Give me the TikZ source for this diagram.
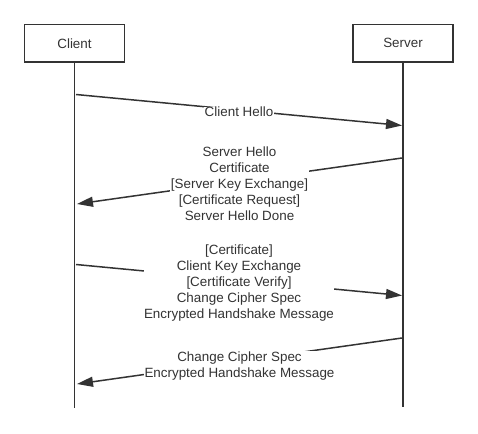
\documentclass[tikz,border=0pt]{standalone}
\usepackage{fontspec}
\setmainfont{Liberation Sans}
\usetikzlibrary{arrows.meta}
\definecolor{ink}{HTML}{333333}
\tikzset{
  actor/.style={draw=ink, line width=1.5pt, minimum width=100pt, minimum height=37.5pt, inner sep=0pt, text=ink},
  life/.style={draw=ink, line width=1.5pt},
  msg/.style={draw=ink, line width=1.5pt, -{Triangle[length=16pt,width=10pt]}},
  msglabel/.style={fill=white, inner sep=0.5pt, align=center, text=ink, font=\fontsize{13.4}{16}\selectfont}
}
\begin{document}
\begin{tikzpicture}[x=1pt,y=-1pt]
\useasboundingbox (0,0) rectangle (478,433);
\node[actor, font=\fontsize{13.4}{16}\selectfont] (client) at (74.5,43.3) {\raisebox{-1pt}{Client}};
\node[actor, font=\fontsize{13.4}{16}\selectfont] (server) at (403,43.3) {\raisebox{-1pt}{Server}};
\coordinate (cend) at (74.5,408);
\coordinate (send) at (403,407);
\draw[life] (client.south) -- (cend);
\draw[life] (server.south) -- (send);
% message end points on the lifelines
\coordinate (m1a) at (76,94.5);
\coordinate (m1b) at (402,125.5);
\coordinate (m2a) at (402,158);
\coordinate (m2b) at (77,204);
\coordinate (m3a) at (76,264.5);
\coordinate (m3b) at (402,295.5);
\coordinate (m4a) at (402,338);
\coordinate (m4b) at (77,384);
\draw[msg] (m1a) -- node[msglabel, yshift=-2pt] (l1) {Client Hello} (m1b);
\draw[msg] (m2a) -- node[msglabel, yshift=-3pt] (l2) {Server Hello\\Certificate\\{[Server Key Exchange]}\\{[Certificate Request]}\\Server Hello Done} (m2b);
\draw[msg] (m3a) -- node[msglabel, yshift=-3.5pt] (l3) {{[Certificate]}\\Client Key Exchange\\{[Certificate Verify]}\\Change Cipher Spec\\Encrypted Handshake Message} (m3b);
\draw[msg] (m4a) -- node[msglabel, yshift=-5pt] (l4) {Change Cipher Spec\\Encrypted Handshake Message} (m4b);
\end{tikzpicture}
\end{document}
